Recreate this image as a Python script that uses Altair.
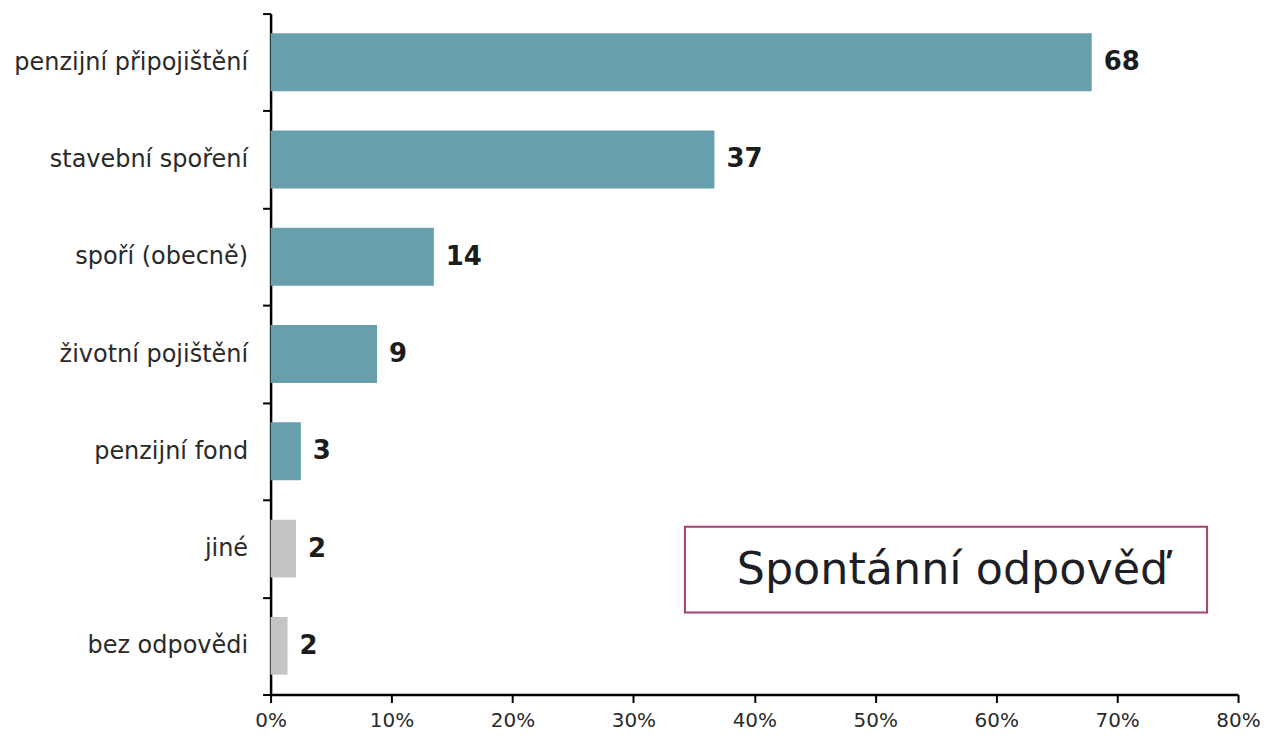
import altair as alt
import pandas as pd

categories = ["penzijní připojištění", "stavební spoření", "spoří (obecně)",
              "životní pojištění", "penzijní fond", "jiné", "bez odpovědi"]
values = [67.9, 36.7, 13.5, 8.8, 2.5, 2.1, 1.4]
value_labels = ["68", "37", "14", "9", "3", "2", "2"]
groups = ["main", "main", "main", "main", "main", "other", "other"]
x_ticks = [0, 10, 20, 30, 40, 50, 60, 70, 80]
box_text = ["Spontánní odpověď"]

df = pd.DataFrame({"cat": categories, "val": values, "lbl": value_labels, "grp": groups})

FONT = "DejaVu Sans"

y_enc = alt.Y("cat:N", sort=categories,
              scale=alt.Scale(paddingInner=0, paddingOuter=0),
              axis=alt.Axis(title=None, tickBand="extent", labelFontSize=24, labelLimit=0,
                            labelPadding=15, labelColor="#2a2a2a", labelFont=FONT))

x_enc = alt.X("val:Q", scale=alt.Scale(domain=[0, 80], nice=False),
              axis=alt.Axis(title=None, values=x_ticks, labelExpr="datum.value + '%'",
                            grid=False, labelFontSize=20, labelPadding=8, labelFlush=False,
                            labelColor="#2a2a2a", labelFont=FONT))

bars = alt.Chart(df).mark_bar(size=58).encode(
    y=y_enc, x=x_enc,
    color=alt.Color("grp:N", scale=alt.Scale(domain=["main", "other"],
                                             range=["#679FAC", "#C4C4C4"]), legend=None),
)

texts = alt.Chart(df).mark_text(align="left", baseline="middle", dx=12, font=FONT,
                                fontWeight="bold", fontSize=26, color="#1c1c1c").encode(
    y=alt.Y("cat:N", sort=categories), x=alt.X("val:Q"), text="lbl:N")

box_df = pd.DataFrame({"t": box_text})
box = alt.Chart(box_df).mark_rect(fill="white", stroke="#A3426F", strokeWidth=2).encode(
    x=alt.value(415), x2=alt.value(938), y=alt.value(514), y2=alt.value(600))
box_label = alt.Chart(box_df).mark_text(font=FONT, fontSize=44.5, color="#1e1e26",
                                        align="center", baseline="middle").encode(
    x=alt.value(683), y=alt.value(558), text="t:N")

chart = alt.layer(bars, texts, box, box_label).properties(
    width=969, height=682,
    autosize=alt.AutoSizeParams(type="none"),
    padding={"left": 263, "top": 5, "right": 22, "bottom": 46},
).configure_view(stroke=None).configure_axis(
    domainColor="black", domainWidth=2.5, tickColor="black", tickWidth=2, tickSize=8,
)

chart.save("out.html", embed_options={"renderer": "svg", "actions": False})
